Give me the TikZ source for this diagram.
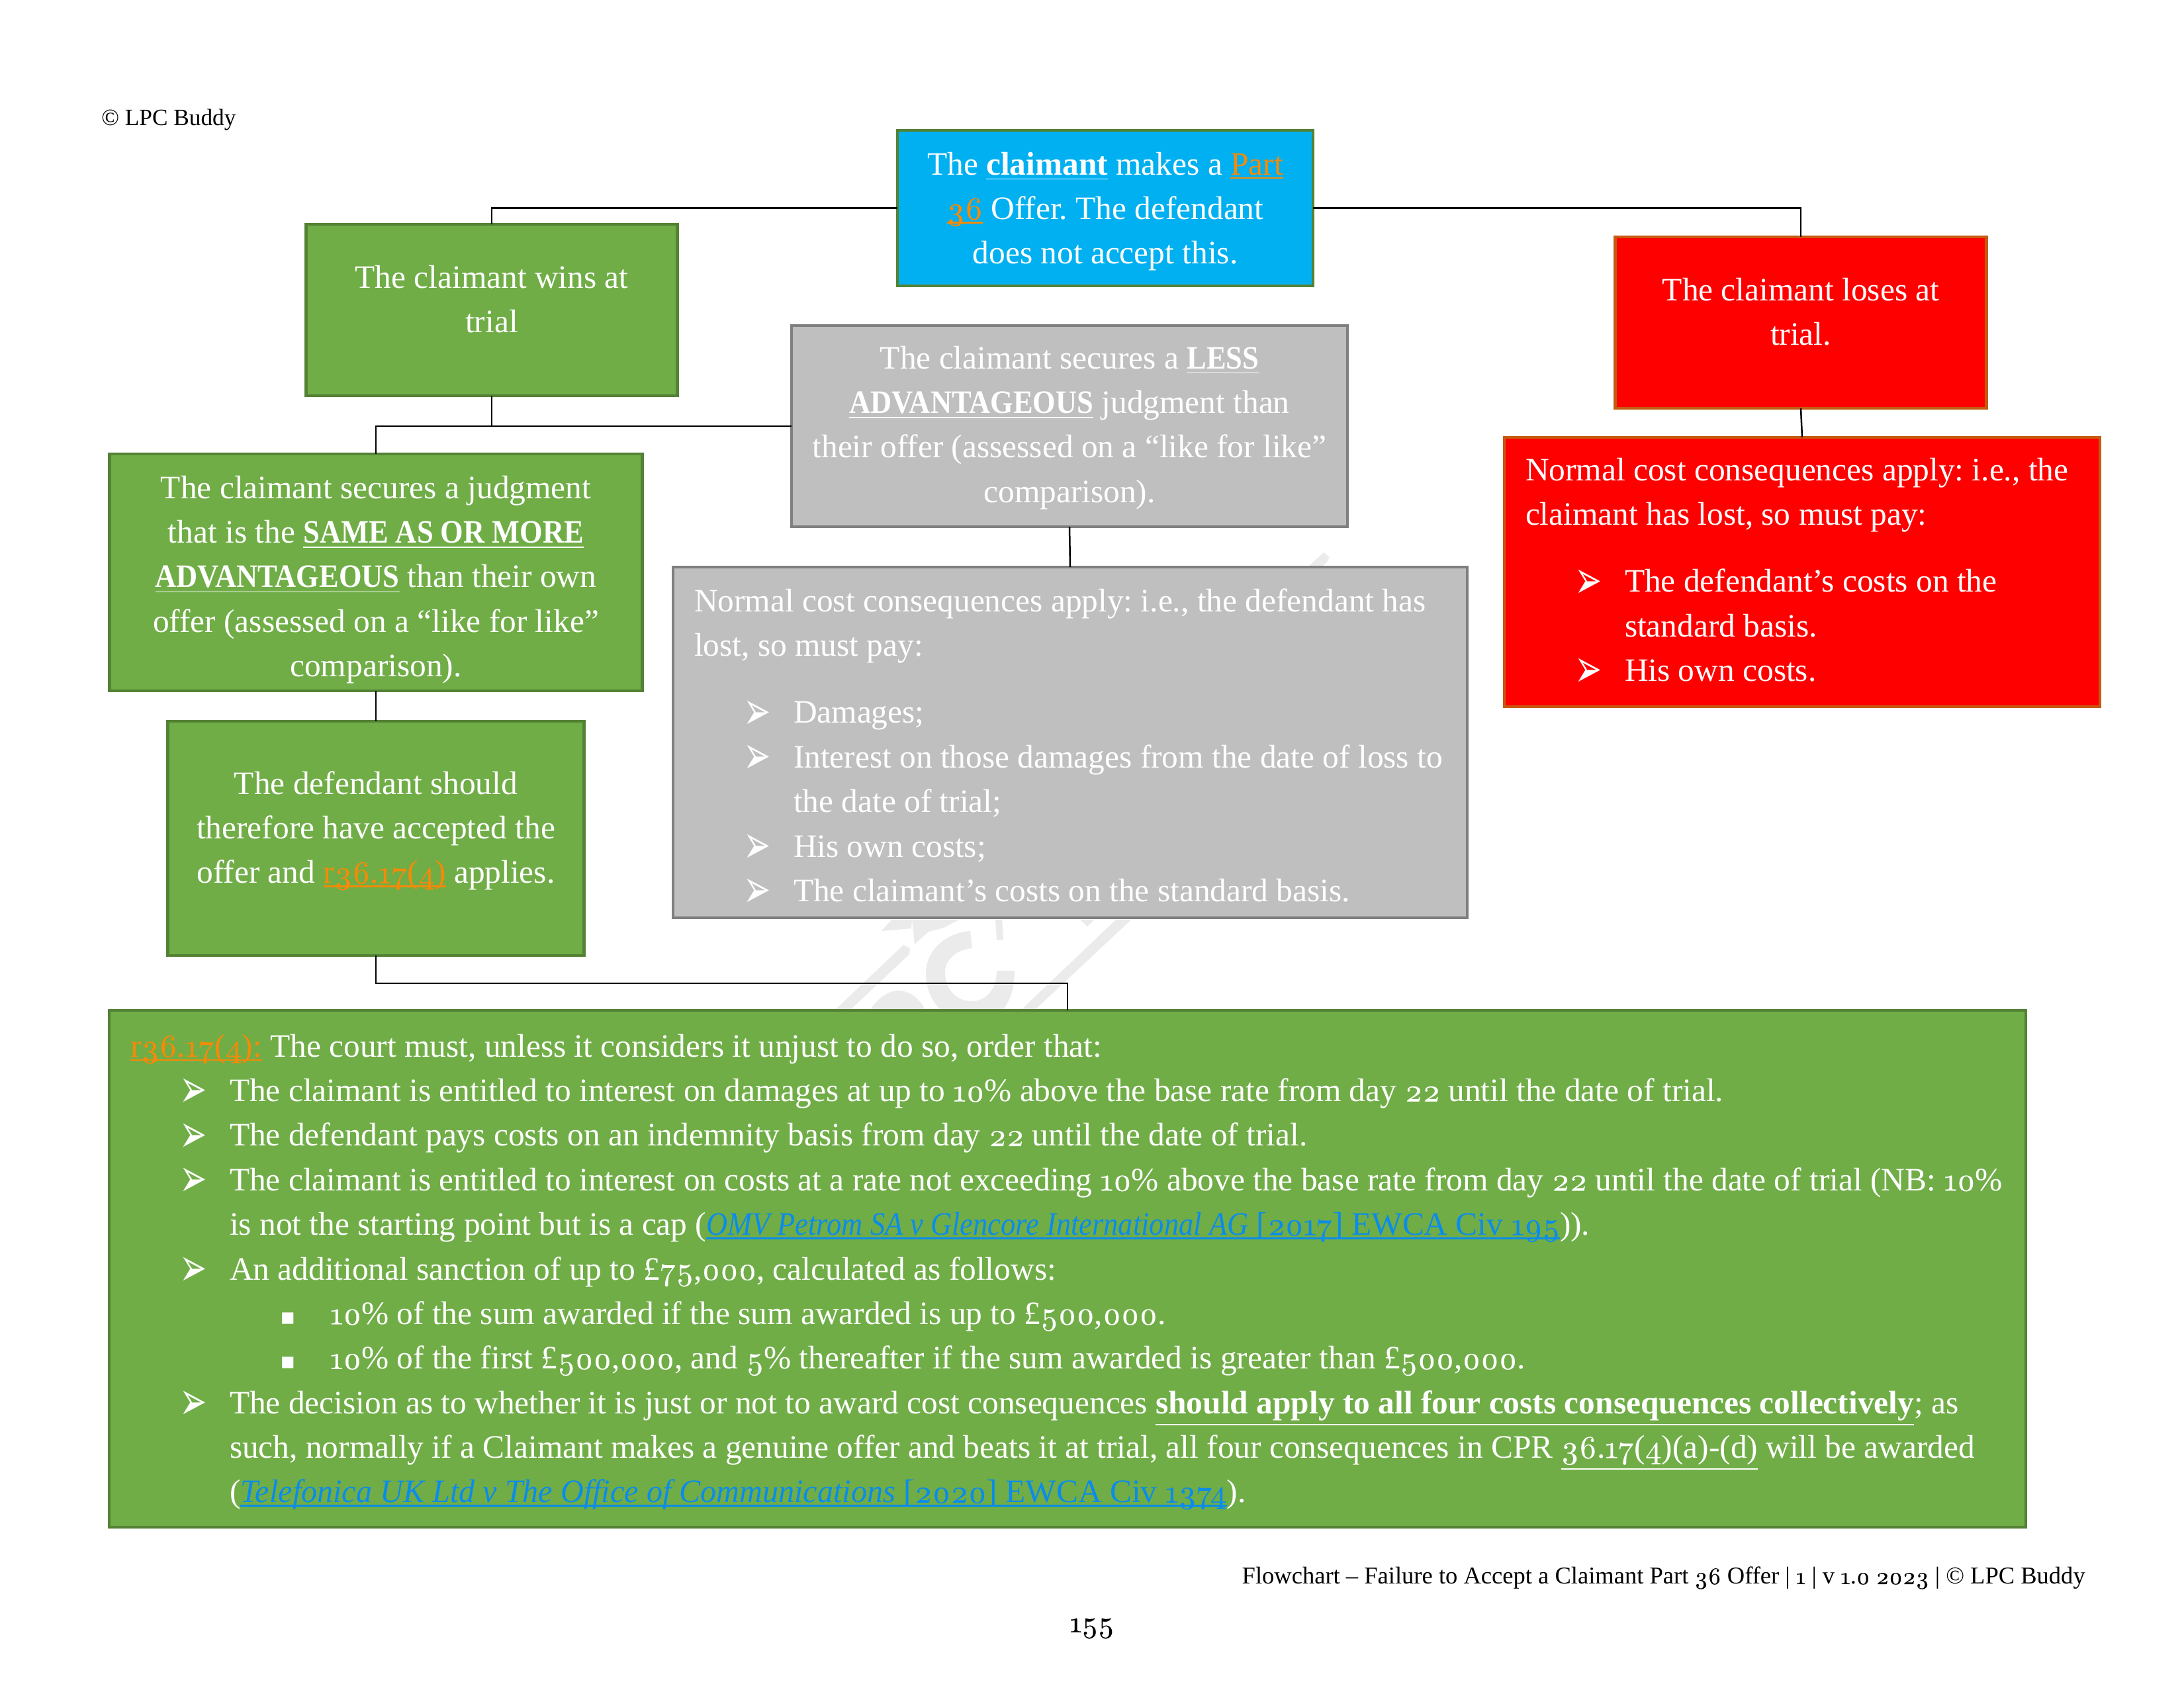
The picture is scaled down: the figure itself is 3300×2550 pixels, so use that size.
\documentclass[tikz,border=0pt]{standalone}
\usepackage{fontspec}
\setmainfont{Liberation Serif}
\newfontfamily\dejavu{DejaVu Sans}
\newfontface\onum[Numbers=OldStyle,Scale=0.98,FakeBold=0.4]{lmroman10-regular.otf}
\usetikzlibrary{positioning}

\newlength{\pxu}
\setlength{\pxu}{0.24bp}
\definecolor{lpcgreen}{HTML}{70AD47}
\definecolor{lpcgreendark}{HTML}{548235}
\definecolor{lpcblue}{HTML}{00B0F0}
\definecolor{lpcgrey}{HTML}{BFBFBF}
\definecolor{lpcgreydark}{HTML}{7F7F7F}
\definecolor{lpcred}{HTML}{FF0000}
\definecolor{lpcreddark}{HTML}{C55A11}
\definecolor{lnkorange}{HTML}{F58A07}
\definecolor{lnkblue}{HTML}{0A8CEB}
\definecolor{markgrey}{HTML}{EBEBEB}

\newcommand{\os}[1]{{\onum #1}}
\newcommand{\bul}[1]{\underline{\textbf{#1}}}
\newcommand{\capsul}[1]{\underline{\scalebox{0.9}[1]{\textbf{#1}}}}
\newcommand{\thickul}[1]{\setbox0\hbox{#1}\rlap{\rule[-1.5pt]{\wd0}{0.65pt}}\box0}
\newcommand{\lnk}[1]{\textcolor{lnkorange}{\thickul{#1}}}
\newcommand{\blnk}[1]{\textcolor{lnkblue}{\thickul{#1}}}
\newcommand{\cell}[4]{\parbox[c][#2\pxu][t]{#1\pxu}{\vspace*{#3\pxu}#4}}
\newcommand{\ctext}[1]{\centering\strut #1\par}
\newcommand{\lead}[1]{\hspace*{32\pxu}\strut\mbox{#1}}
\newcommand{\plain}[1]{\par\hspace*{32\pxu}\mbox{#1}}
\newcommand{\arwglyph}{\raisebox{-2.2pt}{\scalebox{1}[1.65]{\dejavu\char"27A2}}}
\newcommand{\arw}[1]{\par\hspace*{106\pxu}\makebox[76\pxu][l]{\arwglyph}\mbox{#1}}
\newcommand{\cnt}[1]{\par\hspace*{182\pxu}\mbox{#1}}
\newcommand{\sqr}[1]{\par\hspace*{258\pxu}\makebox[76\pxu][l]{\scalebox{0.7}{\dejavu\char"25AA}}\mbox{#1}}

\begin{document}
\begin{tikzpicture}[x=0.24bp, y=-0.24bp, line width=0.6bp,
  flowbox/.style={rectangle, draw, inner sep=0pt, outer sep=0pt, line width=1bp, text=white, font=\fontsize{11.9}{16.23}\selectfont\frenchspacing},
  greenbox/.style={flowbox, fill=lpcgreen, draw=lpcgreendark},
  bluebox/.style={flowbox, fill=lpcblue, draw=lpcgreendark},
  greybox/.style={flowbox, fill=lpcgrey, draw=lpcgreydark},
  redbox/.style={flowbox, fill=lpcred, draw=lpcreddark},
  pagetext/.style={inner sep=0pt, text=black, font=\fontsize{8.8}{12}\selectfont\frenchspacing},
  watermark/.style={fill=markgrey}]

\useasboundingbox (0,0) rectangle (3300,2550);

% watermark behind the boxes
\fill[watermark] (1365,1428) -- (1375,1433) -- (1374,1442) -- (1286,1525) -- (1263,1525) -- cycle;
\fill[watermark] (1686,1390) -- (1709,1390) -- (1565,1525) -- (1544,1525) -- cycle;
\fill[watermark] (1466,1407) .. controls (1425,1410) and (1399,1440) .. (1399,1470) .. controls (1399,1495) and (1408,1512) .. (1420,1525) -- (1516,1525) .. controls (1526,1512) and (1533,1495) .. (1533,1467) -- (1506,1467) .. controls (1506,1495) and (1490,1513) .. (1468,1513) .. controls (1445,1513) and (1428,1495) .. (1428,1470) .. controls (1428,1450) and (1445,1435) .. (1469,1433) -- cycle;
\fill[watermark] (1315,1525) .. controls (1330,1505) and (1345,1497) .. (1357,1497) .. controls (1375,1497) and (1390,1510) .. (1397,1525) -- cycle;
\fill[watermark] (1332,1407) -- (1347,1390) -- (1378,1390) -- (1377,1403) -- cycle;
\fill[watermark] (1378,1390) -- (1449,1390) -- (1426,1402) -- (1403,1408) -- (1382,1427) -- cycle;
\fill[watermark] (1504,1390) -- (1514,1390) -- (1516,1420) -- (1506,1421) -- cycle;
\fill[watermark] (1632,1390) -- (1653,1390) -- (1643,1400) -- cycle;
\fill[watermark] (1978,855) -- (2000,835) -- (2009,842) -- (2005,849) -- (1999,855) -- cycle;

% boxes
\node[bluebox] (offer) at (1670,314.5) {\cell{628}{235}{20}{\ctext{The \bul{claimant} makes a \lnk{Part}\\ \lnk{\os{36}} Offer. The defendant\\ does not accept this.}}};
\node[greenbox] (win) at (743,468.5) {\cell{561}{259}{49}{\ctext{The claimant wins at\\ trial}}};
\node[redbox] (lose) at (2721,487.5) {\cell{561}{259}{49}{\ctext{The claimant loses at\\ trial.}}};
\node[greybox] (less) at (1616,644) {\cell{840}{304}{18}{\ctext{The claimant secures a \capsul{LESS}\\ \capsul{ADVANTAGEOUS} judgment than\\ their offer (assessed on a “like for like”\\ comparison).}}};
\node[greenbox] (same) at (568,865) {\cell{805}{358}{20}{\ctext{The claimant secures a judgment\\ that is the \capsul{SAME AS OR MORE}\\ \capsul{ADVANTAGEOUS} than their own\\ offer (assessed on a “like for like”\\ comparison).}}};
\node[greenbox] (def) at (568,1267) {\cell{629}{354}{63}{\ctext{The defendant should\\ therefore have accepted the\\ offer and \lnk{r\os{36}.\os{17}(\os{4})} applies.}}};
\node[greybox] (normdef) at (1617,1122) {\cell{1200}{530}{20}{%
  \lead{Normal cost consequences apply: i.e., the defendant has}
  \plain{lost, so must pay:}\par\vspace{34\pxu}
  \arw{Damages;}
  \arw{Interest on those damages from the date of loss to}
  \cnt{the date of trial;}
  \arw{His own costs;}
  \arw{The claimant’s costs on the standard basis.}}};
\node[redbox] (normcla) at (2723,864.5) {\cell{900}{407}{18}{%
  \lead{Normal cost consequences apply: i.e., the}
  \plain{claimant has lost, so must pay:}\par\vspace{34\pxu}
  \arw{The defendant’s costs on the}
  \cnt{standard basis.}
  \arw{His own costs.}}};
\node[greenbox] (rule) at (1613,1917.5) {\cell{2896}{781}{23}{%
  \lead{\lnk{r\os{36}.\os{17}(\os{4}):} The court must, unless it considers it unjust to do so, order that:}
  \arw{The claimant is entitled to interest on damages at up to \os{10}\% above the base rate from day \os{22} until the date of trial.}
  \arw{The defendant pays costs on an indemnity basis from day \os{22} until the date of trial.}
  \arw{The claimant is entitled to interest on costs at a rate not exceeding \os{10}\% above the base rate from day \os{22} until the date of trial (NB: \os{10}\%}
  \cnt{is not the starting point but is a cap (\blnk{\scalebox{0.9}[1]{\textit{OMV Petrom SA v Glencore International AG}} [\os{2017}] EWCA Civ \os{195}})).}
  \arw{An additional sanction of up to £\os{75},\os{000}, calculated as follows:}
  \sqr{\os{10}\% of the sum awarded if the sum awarded is up to £\os{500},\os{000}.}
  \sqr{\os{10}\% of the first £\os{500},\os{000}, and \os{5}\% thereafter if the sum awarded is greater than £\os{500},\os{000}.}
  \arw{The decision as to whether it is just or not to award cost consequences \bul{should apply to all four costs consequences collectively}; as}
  \cnt{such, normally if a Claimant makes a genuine offer and beats it at trial, all four consequences in CPR \underline{\os{36}.\os{17}(\os{4})(a)-(d)} will be awarded}
  \cnt{(\blnk{\scalebox{0.975}[1]{\textit{Telefonica UK Ltd v The Office of Communications}} [\os{2020}] EWCA Civ \os{1374}}).}}};

% page furniture
\node[pagetext, anchor=west, font=\fontsize{8.5}{12}\selectfont] (copy) at (152,181) {© LPC Buddy};
\node[pagetext, anchor=east] (foot) at (3152,2385) {Flowchart – Failure to Accept a Claimant Part \os{36} Offer | \os{1} | v \os{1}.\os{0} \os{2023} | © LPC Buddy};
\node[pagetext, font=\fontsize{11}{13}\selectfont] (pageno) at (1650,2461) {\os{155}};

% connectors
\coordinate (winjoin) at (win.south |- less.west);
\coordinate (defjoin) at (568,1486);
\draw (offer.west) -| (win.north);
\draw (offer.east) -| (lose.north);
\draw (win.south) -- (winjoin) -| (same.north);
\draw (less.west) -- (winjoin);
\draw (same.south) -- (def.north);
\draw (less.south) -- (normdef.north);
\draw (lose.south) -- (normcla.north);
\draw (def.south) -- (defjoin) -| (rule.north);

\end{tikzpicture}
\end{document}
